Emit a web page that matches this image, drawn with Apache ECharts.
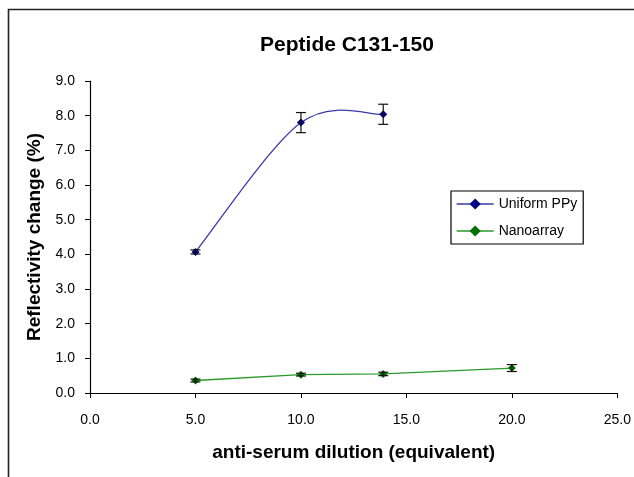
<!DOCTYPE html>
<html>
<head>
<meta charset="utf-8">
<script src="https://cdn.jsdelivr.net/npm/echarts@6/dist/echarts.min.js"></script>
<style>
  html, body { margin: 0; padding: 0; background: #fff; }
  #chart { width: 634px; height: 477px; }
</style>
</head>
<body>
<div id="chart"></div>
<script>
// Anti-serum dilution (x) versus reflectivity change (%)
const dilution = [5.0, 10.0, 13.9, 20.0];
const uniformPPy = [4.07, 7.80, 8.04];
const uniformErr = [0.06, 0.29, 0.29];
const nanoarray = [0.36, 0.53, 0.55, 0.72];
const nanoErr = [0.04, 0.04, 0.05, 0.1];
const xTicks = [0, 5, 10, 15, 20, 25];
const yTicks = [0, 1, 2, 3, 4, 5, 6, 7, 8, 9];

const font = 'Liberation Sans, Arial, sans-serif';
const blueLine = '#3a3aa8';
const greenLine = '#2a9a2a';

const pairs = (xs, ys) => ys.map((y, i) => [xs[i], y]);
const errRows = (xs, ys, es) => ys.map((y, i) => [xs[i], y - es[i], y + es[i]]);

function errorBar(params, api) {
  const x = api.value(0);
  const lo = api.coord([x, api.value(1)]);
  const hi = api.coord([x, api.value(2)]);
  const w = 5;
  const style = { stroke: '#111', lineWidth: 1.2 };
  return {
    type: 'group',
    children: [
      { type: 'line', shape: { x1: lo[0], y1: lo[1], x2: hi[0], y2: hi[1] }, style },
      { type: 'line', shape: { x1: lo[0] - w, y1: lo[1], x2: lo[0] + w, y2: lo[1] }, style },
      { type: 'line', shape: { x1: hi[0] - w, y1: hi[1], x2: hi[0] + w, y2: hi[1] }, style }
    ]
  };
}

// Spreadsheet-style smoothed curve: each segment is a cubic Bezier whose
// control points follow the neighbouring points (Catmull-Rom, tension 1/6).
function smoothSegment(xs, ys, color) {
  return function (params, api) {
    const i = params.dataIndex;
    const n = ys.length;
    if (i >= n - 1) return null;
    const p = k => api.coord([xs[Math.max(0, Math.min(n - 1, k))], ys[Math.max(0, Math.min(n - 1, k))]]);
    const p0 = p(i - 1), p1 = p(i), p2 = p(i + 1), p3 = p(i + 2);
    return {
      type: 'bezierCurve',
      shape: {
        x1: p1[0], y1: p1[1], x2: p2[0], y2: p2[1],
        cpx1: p1[0] + (p2[0] - p0[0]) / 6, cpy1: p1[1] + (p2[1] - p0[1]) / 6,
        cpx2: p2[0] - (p3[0] - p1[0]) / 6, cpy2: p2[1] - (p3[1] - p1[1]) / 6
      },
      style: { stroke: color, lineWidth: 1.3, fill: null }
    };
  };
}

const chart = echarts.init(document.getElementById('chart'));
chart.setOption({
  animation: false,
  backgroundColor: '#fff',
  graphic: [
    // chart frame (left and top edges)
    { type: 'polyline', shape: { points: [[8.5, 477], [8.5, 9.5], [634, 9.5]] },
      style: { stroke: '#222', lineWidth: 1.6, fill: null } }
  ],
  title: {
    text: 'Peptide C131-150',
    left: 342, top: 30, textAlign: 'center',
    textStyle: { fontFamily: font, fontSize: 21, fontWeight: 'bold', color: '#000' }
  },
  legend: {
    left: 451, top: 191, orient: 'vertical',
    width: 136, padding: [6, 6, 6, 5],
    itemGap: 13, itemWidth: 37, itemHeight: 14,
    borderColor: '#000', borderWidth: 1.2,
    textStyle: { fontFamily: font, fontSize: 14, color: '#000' },
    data: [
      { name: 'Uniform PPy', lineStyle: { color: blueLine, width: 1.3, opacity: 1 } },
      { name: 'Nanoarray', lineStyle: { color: greenLine, width: 1.3, opacity: 1 } }
    ]
  },
  grid: { left: 90, right: 16, top: 81, bottom: 84 },
  xAxis: {
    type: 'value', min: 0, max: 25, interval: 5,
    name: 'anti-serum dilution (equivalent)',
    nameLocation: 'middle', nameGap: 50,
    nameTextStyle: { fontFamily: font, fontSize: 19, fontWeight: 'bold', color: '#000' },
    axisLine: { lineStyle: { color: '#000', width: 1.2 } },
    axisTick: { length: 5, inside: false, lineStyle: { color: '#000' } },
    axisLabel: { fontFamily: font, fontSize: 14, color: '#000', margin: 20,
      formatter: v => xTicks.includes(v) ? v.toFixed(1) : '' },
    splitLine: { show: false }
  },
  yAxis: {
    type: 'value', min: 0, max: 9, interval: 1,
    name: 'Reflectivity change (%)',
    nameLocation: 'middle', nameGap: 46,
    nameTextStyle: { fontFamily: font, fontSize: 19, fontWeight: 'bold', color: '#000' },
    axisLine: { show: true, lineStyle: { color: '#000', width: 1.2 } },
    axisTick: { show: true, length: 5, lineStyle: { color: '#000' } },
    axisLabel: { fontFamily: font, fontSize: 14, color: '#000', margin: 15,
      formatter: v => yTicks.includes(v) ? v.toFixed(1) : '' },
    splitLine: { show: false }
  },
  series: [
    {
      name: 'Uniform PPy', type: 'line',
      data: pairs(dilution, uniformPPy),
      symbol: 'diamond', symbolSize: 8,
      lineStyle: { color: blueLine, width: 1.3, opacity: 0 },
      itemStyle: { color: '#000080' },
      z: 4
    },
    {
      name: 'Nanoarray', type: 'line',
      data: pairs(dilution, nanoarray),
      symbol: 'diamond', symbolSize: 8,
      lineStyle: { color: greenLine, width: 1.3 },
      itemStyle: { color: '#007000' },
      z: 4
    },
    {
      type: 'custom', renderItem: smoothSegment(dilution, uniformPPy, blueLine),
      data: pairs(dilution, uniformPPy), z: 3, silent: true
    },
    {
      type: 'custom', renderItem: errorBar,
      data: errRows(dilution, uniformPPy, uniformErr), z: 5, silent: true
    },
    {
      type: 'custom', renderItem: errorBar,
      data: errRows(dilution, nanoarray, nanoErr), z: 5, silent: true
    }
  ]
});
</script>
</body>
</html>
